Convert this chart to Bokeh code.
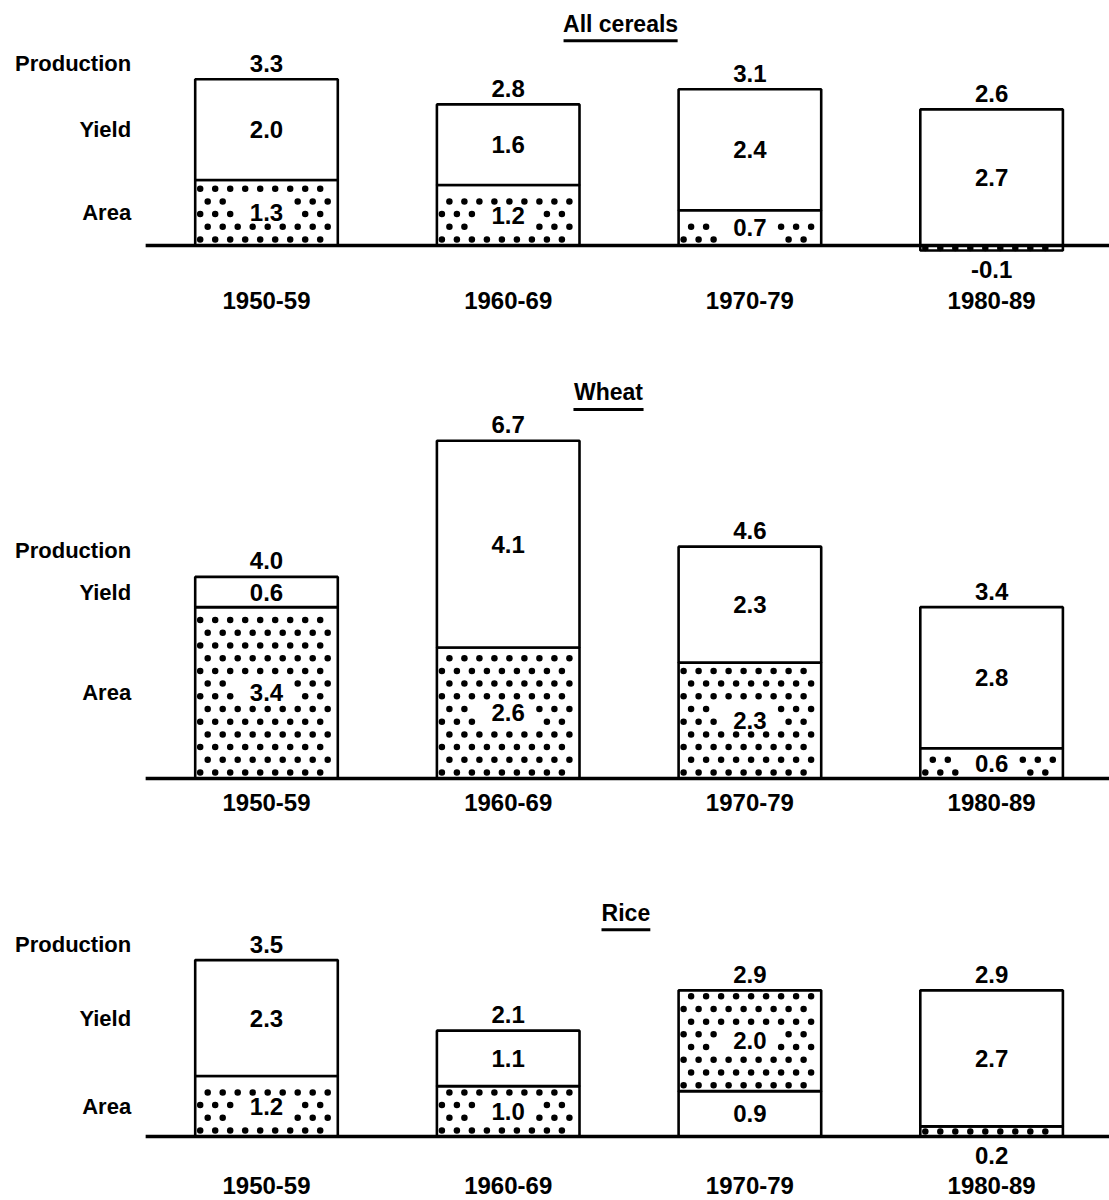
from bokeh.plotting import figure
from bokeh.layouts import column
from bokeh.models import ColumnDataSource, Range1d
from bokeh.core.properties import value
from bokeh.embed import file_html
from bokeh.resources import INLINE

# ---- data (average annual growth, % per year) ----
periods = ["1950-59", "1960-69", "1970-79", "1980-89"]

cereal_production = [3.3, 2.8, 3.1, 2.6]
cereal_area = [1.3, 1.2, 0.7, -0.1]
cereal_yield = [2.0, 1.6, 2.4, 2.7]

wheat_production = [4.0, 6.7, 4.6, 3.4]
wheat_area = [3.4, 2.6, 2.3, 0.6]
wheat_yield = [0.6, 4.1, 2.3, 2.8]

rice_production = [3.5, 2.1, 2.9, 2.9]
rice_lower = [1.2, 1.0, 0.9, 0.2]
rice_upper = [2.3, 1.1, 2.0, 2.7]
rice_lower_dotted = [True, True, False, True]   # 1970-79 drawn with patterns swapped

row_labels = ["Production", "Yield", "Area"]

# ---- style ----
S = 50.4            # pixels per percentage point (vertical)
PX = 241.7          # pixels per category step (horizontal)
W = 1109
X0 = -266 / PX
X1 = X0 + W / PX
FONT = value("Liberation Sans")
BAR_W = 0.59


def txt(p, xs, ys, texts, size="24px", align="center", yoff=0):
    src = ColumnDataSource(dict(x=xs, y=ys, t=texts))
    p.text(x="x", y="y", text="t", source=src, text_font=FONT, text_font_style="bold",
           text_font_size=size, text_align=align, text_baseline="middle",
           text_color="black", y_offset=yoff)


def dot_fill(i, b, t, label_y):
    """stippled fill of a bar segment: staggered dots, cleared round the label"""
    xs, ys = [], []
    h_px = (t - b) * S
    half_w = BAR_W * PX / 2
    if h_px < 13:
        rows = [(b + t) / 2]
    else:
        rows = []
        y = b + 6 / S
        while y <= t - 4 / S:
            rows.append(y)
            y += 12.7 / S
    for r, y in enumerate(rows):
        xp = -half_w + 5 + (7.5 if r % 2 else 0)
        while xp <= half_w - 3:
            keep = True
            if label_y is not None and abs(y - label_y) * S < 13 and abs(xp) < 31:
                keep = False
            if keep:
                xs.append(i + xp / PX)
                ys.append(y)
            xp += 15
    return xs, ys


def panel(title, production, lower, upper, lower_dotted, height, base,
          title_x, title_y, under_half, year_off, prod_lab_off):
    p = figure(width=W, height=height, x_range=Range1d(X0, X1),
               y_range=Range1d(-(height - base) / S, base / S),
               output_backend="svg", toolbar_location=None, min_border=0)
    p.axis.visible = False
    p.grid.visible = False
    p.outline_line_color = None
    p.background_fill_color = "white"

    xs = list(range(len(periods)))
    segs = dict(x=[], b=[], t=[])
    dots_x, dots_y = [], []
    mids, mid_txt, mid_x = [], [], []
    below_y, below_txt, below_x = [], [], []
    tops = []
    for i in xs:
        lo_b, lo_t = min(0, lower[i]), max(0, lower[i])
        up_b, up_t = max(0, lower[i]), max(0, lower[i]) + upper[i]
        tops.append(up_t)
        lo_inside = abs(lower[i]) >= 0.3
        for b, t in ((lo_b, lo_t), (up_b, up_t)):
            segs["x"].append(i); segs["b"].append(b); segs["t"].append(t)
        if lo_inside:
            mid_x.append(i); mids.append((lo_b + lo_t) / 2); mid_txt.append(f"{lower[i]:.1f}")
        else:
            below_x.append(i); below_y.append(lo_b); below_txt.append(f"{lower[i]:.1f}")
        mid_x.append(i); mids.append((up_b + up_t) / 2); mid_txt.append(f"{upper[i]:.1f}")
        if lower_dotted[i]:
            dx, dy = dot_fill(i, lo_b, lo_t, (lo_b + lo_t) / 2 if lo_inside else None)
        else:
            dx, dy = dot_fill(i, up_b, up_t, (up_b + up_t) / 2)
        dots_x += dx; dots_y += dy

    p.vbar(x="x", bottom="b", top="t", width=BAR_W, source=ColumnDataSource(segs),
           fill_color="white", line_color="black", line_width=2.6)
    p.scatter(x=dots_x, y=dots_y, marker="circle", size=6.5,
              fill_color="black", line_color=None)

    # baseline
    p.segment(x0=[-0.5], y0=[0], x1=[X1], y1=[0], line_color="black", line_width=3.5)

    # value labels
    txt(p, xs, tops, [f"{v:.1f}" for v in production], yoff=-16)
    txt(p, mid_x, mids, mid_txt)
    if below_x:
        txt(p, below_x, below_y, below_txt, yoff=19)
    txt(p, xs, [0] * len(xs), periods, size="24px", yoff=year_off)

    # row labels (aligned with the first bar)
    lo0 = max(0, lower[0])
    txt(p, [-0.56], [tops[0]], [row_labels[0]], size="22px", align="right", yoff=prod_lab_off)
    txt(p, [-0.56], [(lo0 + tops[0]) / 2], [row_labels[1]], size="22px", align="right")
    txt(p, [-0.56], [lo0 / 2], [row_labels[2]], size="22px", align="right")

    # title with underline
    txt(p, [title_x], [title_y], [title], size="23px")
    p.segment(x0=[title_x - under_half], y0=[title_y - 17 / S],
              x1=[title_x + under_half], y1=[title_y - 17 / S],
              line_color="black", line_width=3)
    return p


p1 = panel("All cereals", cereal_production, cereal_area, cereal_yield,
           [True] * 4, 350, 245, 1.465, 4.40, 0.236, 55, -16)
p2 = panel("Wheat", wheat_production, wheat_area, wheat_yield,
           [True] * 4, 490, 428, 1.415, 7.66, 0.145, 24, -26)
p3 = panel("Rice", rice_production, rice_lower, rice_upper,
           rice_lower_dotted, 360, 296, 1.487, 4.44, 0.101, 49, -16)

layout = column(p1, p2, p3, spacing=0)
open("out.html", "w").write(file_html(layout, INLINE))
